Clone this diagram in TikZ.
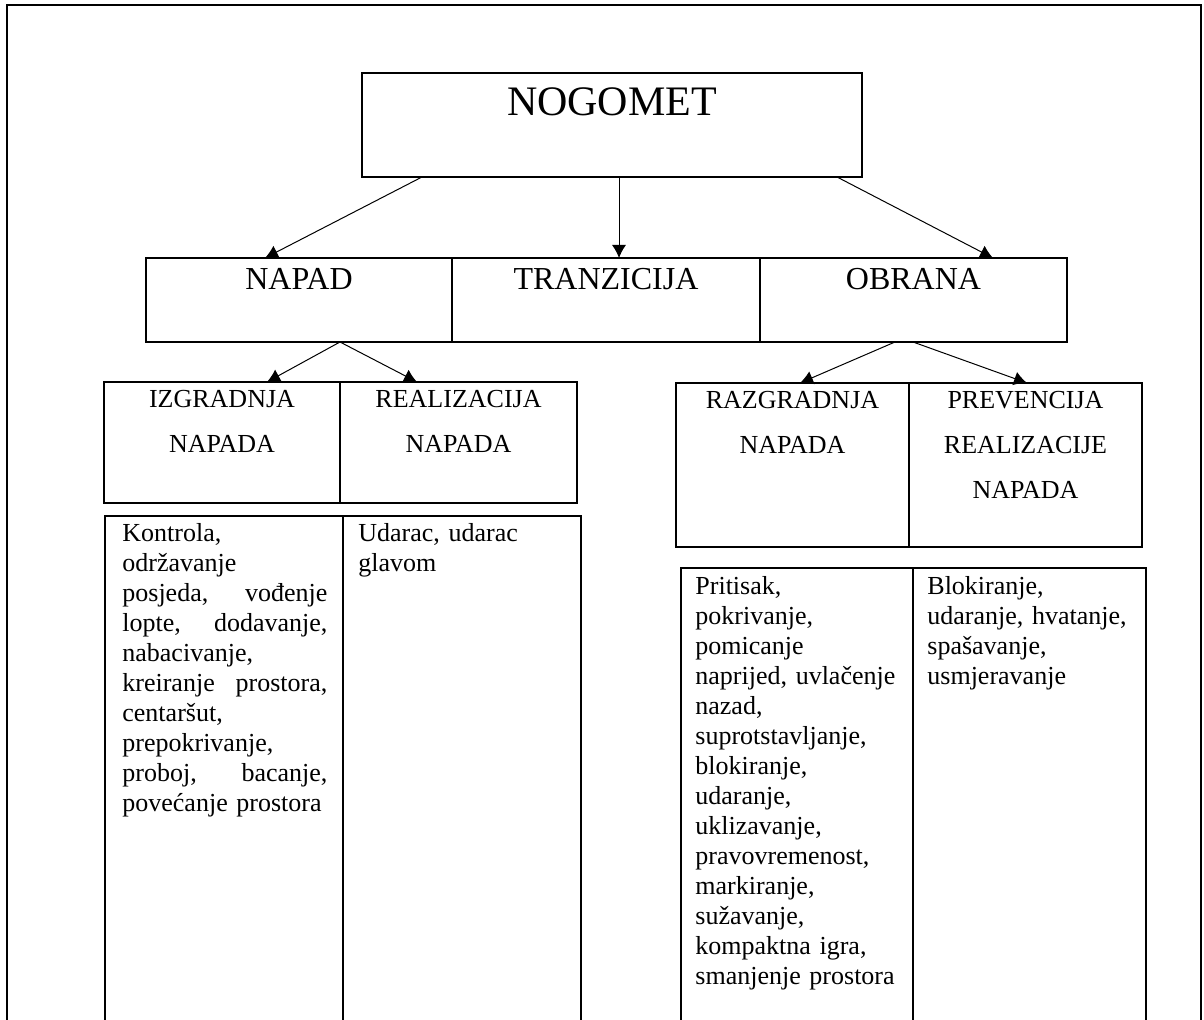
\documentclass[tikz,border=0pt]{standalone}
\usepackage{fontspec}
\setmainfont{Liberation Serif}
\usetikzlibrary{arrows.meta,calc}

\begin{document}
\begin{tikzpicture}[x=0.5pt, y=-0.5pt, >={Latex[length=6.5pt,width=7pt]},
	kasten/.style={draw=black, line width=1pt, inner sep=0pt, outer sep=0pt, anchor=north west},
	titel/.style={inner sep=0pt, anchor=base, text width=120pt, align=center, font=\fontsize{13}{22.5}\selectfont},
	inhalt/.style={inner sep=0pt, anchor=base west, text width=102.5pt, align=left, font=\fontsize{13}{15}\selectfont}]
	
	\useasboundingbox (0,0) rectangle (1204,1020);
	\clip (0,0) rectangle (1204,1020);
	
	% Rahmen
	\draw[black, line width=1.2pt] (7,1030) -- (7,5) -- (1201,5) -- (1201,1030);
	
	\node[kasten, minimum width=250pt, minimum height=52pt](nogomet) at (362,73) {};
	
	\node[kasten, minimum width=153pt, minimum height=42pt](napad) at (146,258) {};
	\node[kasten, minimum width=154pt, minimum height=42pt](tranzicija) at (452,258) {};
	\node[kasten, minimum width=153.5pt, minimum height=42pt](obrana) at (760,258) {};
	
	\node[kasten, minimum width=118pt, minimum height=60.5pt](izgradnja) at (104,382) {};
	\node[kasten, minimum width=118.5pt, minimum height=60.5pt](realizacija) at (340,382) {};
	\node[kasten, minimum width=116.5pt, minimum height=82pt](razgradnja) at (676,383) {};
	\node[kasten, minimum width=116.5pt, minimum height=82pt](prevencija) at (909,383) {};
	
	\node[kasten, minimum width=119pt, minimum height=257pt](kontrola) at (105,516) {};
	\node[kasten, minimum width=119pt, minimum height=257pt](udarac) at (343,516) {};
	\node[kasten, minimum width=116pt, minimum height=231pt](pritisak) at (681,568) {};
	\node[kasten, minimum width=116.5pt, minimum height=231pt](blokiranje) at (913,568) {};
	
	
	\node[titel, text width=200pt, font=\fontsize{21}{25}\selectfont](NOGOMET) at (612,116) {NOGOMET};
	\node[titel, font=\fontsize{16}{20}\selectfont](NAPAD) at (299,290) {NAPAD};
	\node[titel, font=\fontsize{16}{20}\selectfont](TRANZICIJA) at (606,290) {TRANZICIJA};
	\node[titel, font=\fontsize{16}{20}\selectfont](OBRANA) at (913.5,290) {OBRANA};
	
	\node[titel](IZGRADNJA) at (222,408) {IZGRADNJA\\NAPADA};
	\node[titel](REALIZACIJA) at (458.5,408) {REALIZACIJA\\NAPADA};
	\node[titel](RAZGRADNJA) at (792.5,409) {RAZGRADNJA\\NAPADA};
	\node[titel](PREVENCIJA) at (1025.5,409) {PREVENCIJA\\REALIZACIJE\\NAPADA};
	
	\node[inhalt](KONTROLA) at (122,542) {Kontrola,\\održavanje\\posjeda,\hfill vođenje\\lopte,\hfill dodavanje,\\nabacivanje,\\kreiranje\hfill prostora,\\centaršut,\\prepokrivanje,\\proboj,\hfill bacanje,\\povećanje prostora};
	\node[inhalt](UDARAC) at (358,542) {Udarac, udarac\\glavom};
	\node[inhalt](PRITISAK) at (695,595) {Pritisak,\\pokrivanje,\\pomicanje\\naprijed, uvlačenje\\nazad,\\suprotstavljanje,\\blokiranje,\\udaranje,\\uklizavanje,\\pravovremenost,\\markiranje,\\sužavanje,\\kompaktna igra,\\smanjenje prostora};
	\node[inhalt](BLOKIRANJE) at (927,595) {Blokiranje,\\udaranje, hvatanje,\\spašavanje,\\usmjeravanje};
	
	\coordinate (a_start) at ($(nogomet.south west)+(60,0)$);
	\coordinate (a_ende) at ($(napad.north west)+(119,0)$);
	
	\coordinate (b_start) at ($(nogomet.south west)+(257,0)$);
	\coordinate (b_ende) at ($(tranzicija.north west)+(167,0)$);
	
	\coordinate (c_start) at ($(nogomet.south west)+(475,0)$);
	\coordinate (c_ende) at ($(obrana.north west)+(233,0)$);
	
	\coordinate (d_start) at ($(napad.south west)+(194,0)$);
	\coordinate (d_ende) at ($(izgradnja.north west)+(163,0)$);
	\coordinate (e_ende) at ($(realizacija.north west)+(77,0)$);
	
	\coordinate (f_start) at ($(obrana.south west)+(135,0)$);
	\coordinate (f_ende) at ($(razgradnja.north west)+(124,0)$);
	\coordinate (g_start) at ($(obrana.south west)+(153,0)$);
	\coordinate (g_ende) at ($(prevencija.north west)+(118,0)$);
	
	% Pfeile
	\draw[->, line width=0.5pt](a_start) -- (a_ende);
	\draw[->, line width=0.5pt](b_start) -- (b_ende);
	\draw[->, line width=0.5pt](c_start) -- (c_ende);
	
	\draw[->, line width=0.5pt](d_start) -- (d_ende);
	\draw[->, line width=0.5pt](d_start) -- (e_ende);
	\draw[->, line width=0.5pt](f_start) -- (f_ende);
	\draw[->, line width=0.5pt](g_start) -- (g_ende);
\end{tikzpicture}
\end{document}
